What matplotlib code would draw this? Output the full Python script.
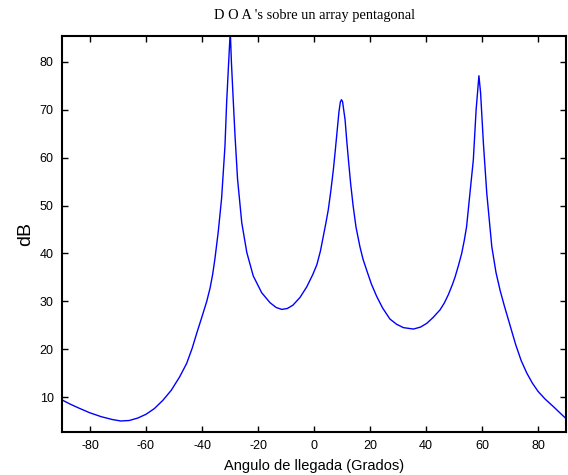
import matplotlib
matplotlib.use("Agg")
import matplotlib.pyplot as plt

# angle of arrival (degrees) and spectrum (dB)
angulo = [-90, -87, -84, -80, -76, -72, -69, -66, -63, -60, -57, -54, -51, -48,
          -45.5, -43.5, -41.9, -40.1, -38.3, -37.1, -36.2, -35.4, -34.2, -33.0,
          -31.8, -31.2, -30.6, -29.9, -29.5, -28.8, -28.2, -27.3, -25.8, -24.0,
          -21.7, -18.7, -15.7, -13.5, -11.5, -9.5, -7.5, -5, -2.6, -0.5, 1, 2.3,
          3.3, 4.2, 5.1, 6, 6.9, 7.6, 8.3, 8.9, 9.4, 9.8, 10.2, 10.6, 11.1, 11.7,
          12.3, 13.1, 14, 15, 16.4, 17.5, 18.8, 20.5, 22.4, 24.5, 27.1, 29.5,
          31.9, 35.5, 38, 40.3, 42.5, 45, 46.5, 48, 49.5, 50.4, 51.6, 52.75, 53.7,
          54.5, 55.7, 56.9, 57.9, 58.9, 59.5, 60.5, 61.7, 62.6, 63.5, 65, 66.5,
          68, 70, 72, 74, 76, 78, 80, 82.5, 85.5, 88, 90]
db = [9.4, 8.5, 7.7, 6.7, 5.9, 5.3, 5.0, 5.1, 5.6, 6.4, 7.6, 9.3, 11.4, 14.2,
      17.0, 20.2, 23.3, 26.6, 30.0, 32.8, 35.6, 38.8, 44.5, 51.5,
      62.4, 71.5, 78.5, 86.5, 80.0, 71.5, 64.5, 55.5, 46.4, 40.2,
      35.3, 31.8, 29.7, 28.7, 28.3, 28.5, 29.2, 30.8, 33.0, 35.5, 37.6, 40.5,
      43.5, 46.2, 49.1, 53.0, 57.4, 61.5, 65.8, 69.5, 71.6, 72.1, 71.7, 70.0, 67.9,
      63.5, 59.5, 54.5, 49.8, 45.5, 41.4, 38.8, 36.5, 33.6, 31.0, 28.6, 26.3,
      25.2, 24.5, 24.2, 24.6, 25.4, 26.6, 28.2, 29.6, 31.4, 33.6, 35.1, 37.5,
      40.0, 42.8, 45.6, 52.6, 59.5, 70.0, 77.1, 73.5, 63.0, 52.6, 47.0, 41.4,
      36.0, 32.2, 29.0, 25.0, 21.0, 17.6, 15.0, 12.9, 11.2, 9.6, 8.0, 6.6, 5.5]

xticks = [-80, -60, -40, -20, 0, 20, 40, 60, 80]
yticks = [10, 20, 30, 40, 50, 60, 70, 80]

plt.rcParams['font.family'] = ['Liberation Sans', 'DejaVu Sans']
plt.rcParams['axes.unicode_minus'] = False

fig = plt.figure(figsize=(5.68, 4.75), dpi=100)
ax = fig.add_axes([62 / 568, 43 / 475, 504 / 568, 396 / 475])
ax.plot(angulo, db, color='#0000ff', linewidth=1.0)

ax.set_xlim(-90, 90)
ax.set_ylim(2.7, 85.4)
ax.set_xticks(xticks)
ax.set_yticks(yticks)
ax.tick_params(direction='in', top=True, right=True, length=4, width=1,
               labelsize=9, pad=6)
for s in ax.spines.values():
    s.set_linewidth(1.5)

ax.set_xlabel('Angulo de llegada (Grados)', fontsize=10.5, labelpad=5)
ax.set_ylabel('dB', fontsize=14, labelpad=4)
ax.set_title("D O A 's sobre un array pentagonal", fontsize=10.4,
             family=['Liberation Serif', 'DejaVu Serif'], pad=12)

fig.savefig('out.png', dpi=100)
